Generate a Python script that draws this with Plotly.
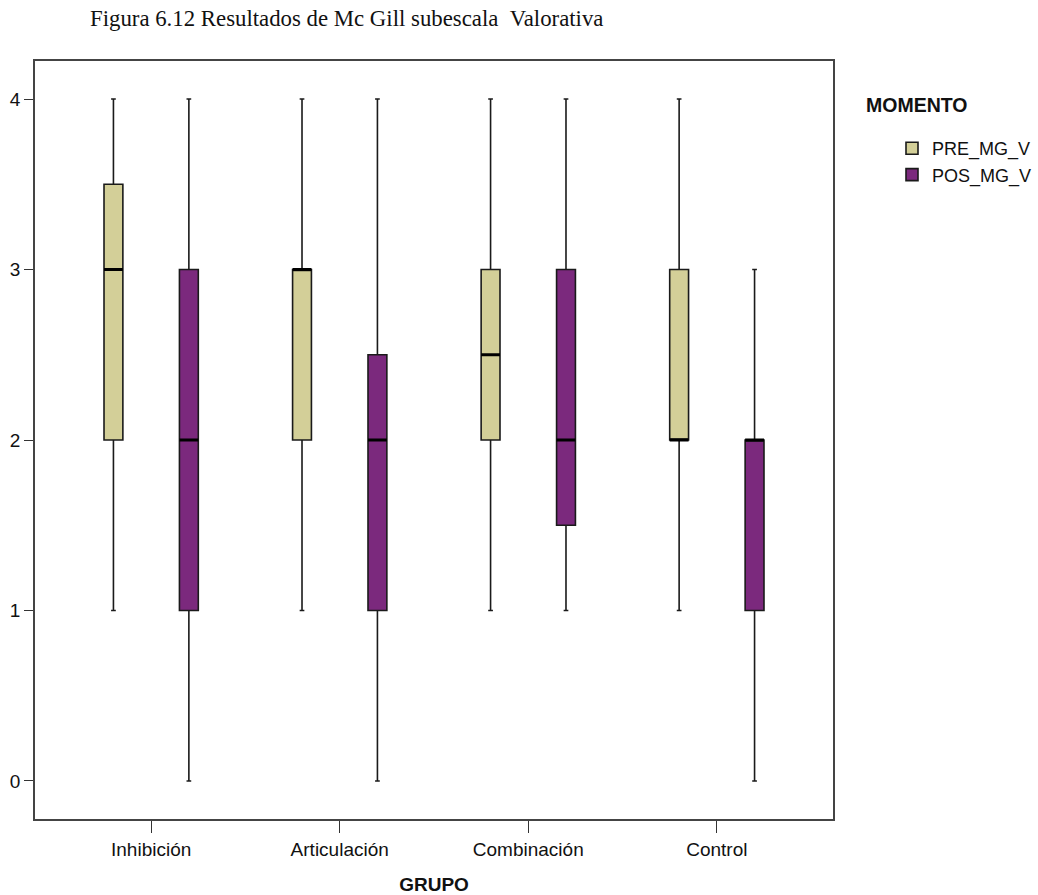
import plotly.graph_objects as go

# Grupos y estadísticos de caja (mín, Q1, mediana, Q3, máx) por momento
grupos = ["Inhibición", "Articulación", "Combinación", "Control"]

pre_min = [1, 1, 1, 1]
pre_q1 = [2, 2, 2, 2]
pre_med = [3, 3, 2.5, 2]
pre_q3 = [3.5, 3, 3, 3]
pre_max = [4, 4, 4, 4]

pos_min = [0, 0, 1, 0]
pos_q1 = [1, 1, 1.5, 1]
pos_med = [2, 2, 2, 2]
pos_q3 = [3, 2.5, 3, 2]
pos_max = [4, 4, 4, 3]

y_ticks = [0, 1, 2, 3, 4]

PRE_COLOR = "#D3CF98"
POS_COLOR = "#7B297D"
OFFSET = 0.2
BOX_W = 0.1
SANS = "Liberation Sans, Arial, sans-serif"

fig = go.Figure()

series = [
    ("PRE_MG_V", PRE_COLOR, -OFFSET, pre_min, pre_q1, pre_med, pre_q3, pre_max),
    ("POS_MG_V", POS_COLOR, OFFSET, pos_min, pos_q1, pos_med, pos_q3, pos_max),
]

for name, color, off, lo, q1, med, q3, hi in series:
    xs = [i + off for i in range(len(grupos))]
    fig.add_trace(go.Box(
        name=name,
        x=xs,
        lowerfence=lo, q1=q1, median=med, q3=q3, upperfence=hi,
        width=BOX_W,
        whiskerwidth=0.25,
        fillcolor=color,
        line=dict(color="#1a1a1a", width=1.6),
        hoverinfo="skip",
    ))

# Medianas resaltadas con trazo grueso
for name, color, off, lo, q1, med, q3, hi in series:
    mx, my = [], []
    for i, m in enumerate(med):
        mx += [i + off - BOX_W / 2, i + off + BOX_W / 2, None]
        my += [m, m, None]
    fig.add_trace(go.Scatter(
        x=mx, y=my, mode="lines",
        line=dict(color="#000000", width=3),
        showlegend=False, hoverinfo="skip",
    ))

axis_common = dict(
    showline=True, linecolor="#444444", linewidth=1.5, mirror=True,
    showgrid=False, zeroline=False,
    ticks="outside", tickcolor="#333333", tickwidth=1.2,
    tickfont=dict(family=SANS, size=19, color="#111111"),
)

fig.update_xaxes(
    **axis_common,
    range=[-0.616, 3.616],
    tickmode="array", tickvals=list(range(len(grupos))), ticktext=grupos,
    ticklen=12,
    title=dict(text="<b>GRUPO</b>", standoff=24,
               font=dict(family=SANS, size=19, color="#111111")),
)
fig.update_yaxes(
    **axis_common,
    range=[-0.223, 4.223],
    tickmode="array", tickvals=y_ticks,
    ticklen=9,
)

fig.add_annotation(
    text="Figura 6.12 Resultados de Mc Gill subescala \u00a0Valorativa",
    xref="paper", yref="paper", x=(88 - 35) / 798, y=1 + (61 - 18) / 758,
    xanchor="left", yanchor="middle", showarrow=False,
    font=dict(family="Liberation Serif, Times New Roman, serif", size=22.8, color="#111111"),
)
fig.add_annotation(
    text="<b>MOMENTO</b>",
    xref="paper", yref="paper", x=(864 - 35) / 798, y=1 - (105 - 61) / 758,
    xanchor="left", yanchor="middle", showarrow=False,
    font=dict(family=SANS, size=19.5, color="#111111"),
)

fig.update_layout(
    width=1038, height=895,
    margin=dict(l=35, r=205, t=61, b=76, autoexpand=False),
    paper_bgcolor="white", plot_bgcolor="white",
    boxmode="overlay",
    legend=dict(
        x=(892 - 35) / 798, y=1 - (130 - 61) / 758, xanchor="left", yanchor="top",
        font=dict(family=SANS, size=18, color="#111111"),
        bgcolor="rgba(0,0,0,0)", tracegroupgap=0, borderwidth=0,
    ),
)

fig.write_html("out.html")
